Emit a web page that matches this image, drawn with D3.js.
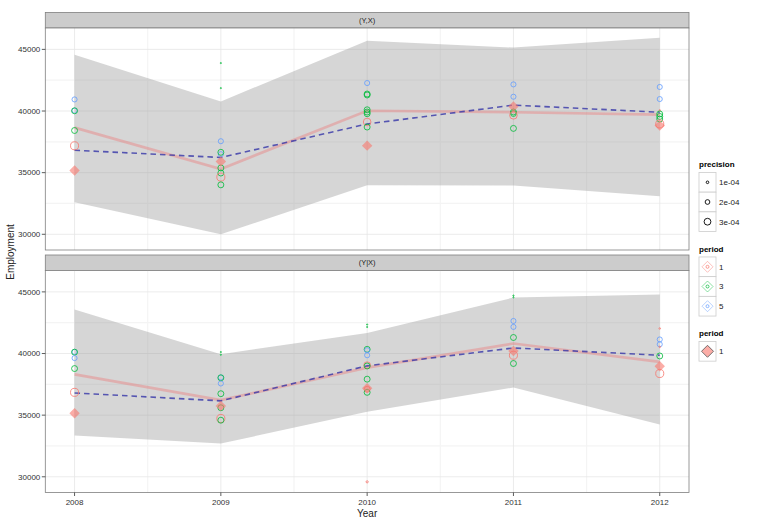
<!DOCTYPE html>
<html>
<head>
<meta charset="utf-8">
<script src="https://cdn.jsdelivr.net/npm/d3@7"></script>
<style>
  body { margin: 0; background: #fff; }
  svg text { font-family: "Liberation Sans", Arial, sans-serif; }
</style>
</head>
<body>
<svg id="chart" width="761" height="526"></svg>
<script>
// ---- data ----
var years = [2008, 2009, 2010, 2011, 2012];
var yTicks = [30000, 35000, 40000, 45000];
var yMinor = [32500, 37500, 42500];
var xMinor = [2008.5, 2009.5, 2010.5, 2011.5];
var panelLabels = ["(Y,X)", "(Y|X)"];
var periods = [1, 3, 5];
var periodColors = ["#F8766D", "#00BA38", "#619CFF"];
var precisionBreaks = [1e-4, 2e-4, 3e-4];
var precisionLabels = ["1e-04", "2e-04", "3e-04"];

// top panel (Y,X)
var ribbonLoA = [32590, 30000, 33970, 33950, 33080];
var ribbonHiA = [44560, 40780, 45700, 45150, 45940];
var fitA      = [38650, 35300, 40020, 39900, 39700];
var trendA    = [36820, 36230, 38950, 40480, 39900];
var diamondA  = [35180, 35900, 37190, 40370, 38830];
// [year, value, period, precision]
var pointsA = [
  [2008, 40940, 5, 2.2e-4], [2008, 40030, 5, 2.2e-4], [2008, 40020, 3, 2.6e-4],
  [2008, 38420, 3, 2.6e-4], [2008, 37180, 1, 3.6e-4],
  [2009, 43890, 3, 0.3e-4], [2009, 41860, 3, 0.3e-4], [2009, 37550, 5, 2.2e-4],
  [2009, 36500, 5, 2.2e-4], [2009, 36650, 3, 2.6e-4], [2009, 35380, 3, 2.6e-4],
  [2009, 34970, 3, 2.6e-4], [2009, 34640, 1, 3.6e-4], [2009, 34010, 3, 2.6e-4],
  [2010, 42270, 5, 2.2e-4], [2010, 41380, 3, 2.6e-4], [2010, 41300, 3, 2.6e-4],
  [2010, 40100, 3, 2.6e-4], [2010, 39920, 3, 2.6e-4], [2010, 39780, 3, 2.6e-4],
  [2010, 39110, 1, 3.4e-4], [2010, 38700, 3, 2.6e-4],
  [2011, 42160, 5, 2.2e-4], [2011, 41160, 5, 2.2e-4], [2011, 39920, 3, 2.6e-4],
  [2011, 39800, 3, 2.6e-4], [2011, 39650, 1, 3.4e-4], [2011, 38590, 3, 2.6e-4],
  [2012, 41950, 5, 2.2e-4], [2012, 40970, 5, 2.2e-4], [2012, 40050, 1, 0.5e-4],
  [2012, 39760, 3, 2.6e-4], [2012, 39560, 3, 2.6e-4], [2012, 39350, 3, 2.6e-4],
  [2012, 38950, 1, 3.6e-4]
];

// bottom panel (Y|X)
var ribbonLoB = [33350, 32700, 35270, 37240, 34240];
var ribbonHiB = [43570, 39950, 41670, 44540, 44780];
var fitB      = [38310, 36220, 38850, 40810, 39320];
var trendB    = [36800, 36160, 39000, 40450, 39860];
var diamondB  = [35160, 35750, 37190, 40210, 38970];
var pointsB = [
  [2008, 40130, 5, 2.2e-4], [2008, 40110, 3, 2.6e-4], [2008, 39630, 5, 2.2e-4],
  [2008, 38780, 3, 2.6e-4], [2008, 36850, 1, 3.6e-4],
  [2009, 40120, 3, 0.3e-4], [2009, 39900, 3, 0.3e-4], [2009, 38060, 5, 2.2e-4],
  [2009, 38030, 3, 2.6e-4], [2009, 37570, 5, 2.2e-4], [2009, 36740, 3, 2.6e-4],
  [2009, 35600, 3, 2.6e-4], [2009, 34730, 1, 3.6e-4], [2009, 34590, 3, 2.6e-4],
  [2010, 42350, 3, 0.3e-4], [2010, 42150, 3, 0.3e-4], [2010, 40340, 3, 2.6e-4],
  [2010, 40270, 5, 2.2e-4], [2010, 39860, 5, 2.2e-4], [2010, 39050, 1, 3.0e-4],
  [2010, 38990, 3, 2.6e-4], [2010, 37920, 3, 2.6e-4], [2010, 37100, 1, 2.6e-4],
  [2010, 36850, 3, 2.6e-4], [2010, 29590, 1, 0.8e-4],
  [2011, 44700, 3, 0.3e-4], [2011, 44560, 3, 0.3e-4], [2011, 42640, 5, 2.2e-4],
  [2011, 42160, 5, 2.2e-4], [2011, 41300, 3, 2.6e-4], [2011, 39860, 1, 3.6e-4],
  [2011, 39190, 3, 2.6e-4],
  [2012, 42030, 1, 0.5e-4], [2012, 41140, 5, 2.2e-4], [2012, 40750, 5, 2.2e-4],
  [2012, 40540, 1, 0.5e-4], [2012, 39800, 3, 2.6e-4], [2012, 38380, 1, 3.6e-4]
];

var panels = [
  { label: panelLabels[0], lo: ribbonLoA, hi: ribbonHiA, fit: fitA, trend: trendA, diamonds: diamondA, points: pointsA, top: 28 },
  { label: panelLabels[1], lo: ribbonLoB, hi: ribbonHiB, fit: fitB, trend: trendB, diamonds: diamondB, points: pointsB, top: 270.5 }
];

// ---- layout ----
var left = 45.3, right = 689, panelH = 222, stripH = 15.5;
var svg = d3.select("#chart");

var x = d3.scaleLinear().domain([2007.8, 2012.2]).range([left, right]);
var color = d3.scaleOrdinal().domain(periods).range(periodColors);
var radius = d3.scaleLinear().domain([1e-4, 3e-4]).range([1.3, 3.4]);

panels.forEach(function(p, i){
    var y = d3.scaleLinear().domain([28725, 46735]).range([p.top + panelH, p.top]);
    var g = svg.append("g");

    // strip
    g.append("rect")
        .attr("x", left).attr("y", p.top - stripH)
        .attr("width", right - left).attr("height", stripH)
        .attr("fill", "#CCCCCC").attr("stroke", "#7F7F7F").attr("stroke-width", 0.8);
    g.append("text")
        .attr("x", (left + right) / 2).attr("y", p.top - stripH / 2 + 2.6)
        .attr("text-anchor", "middle")
        .attr("font-size", "7.5px").attr("fill", "#1A1A1A")
        .text(p.label);

    // panel background + grid
    g.append("rect")
        .attr("x", left).attr("y", p.top)
        .attr("width", right - left).attr("height", panelH)
        .attr("fill", "#fff");

    g.selectAll(".ymin").data(yMinor).enter().append("line")
        .attr("x1", left).attr("x2", right)
        .attr("y1", function(d){ return y(d); }).attr("y2", function(d){ return y(d); })
        .attr("stroke", "#F4F4F4").attr("stroke-width", 1.2);
    g.selectAll(".xmin").data(xMinor).enter().append("line")
        .attr("y1", p.top).attr("y2", p.top + panelH)
        .attr("x1", function(d){ return x(d); }).attr("x2", function(d){ return x(d); })
        .attr("stroke", "#F4F4F4").attr("stroke-width", 1.2);
    g.selectAll(".ymaj").data(yTicks).enter().append("line")
        .attr("x1", left).attr("x2", right)
        .attr("y1", function(d){ return y(d); }).attr("y2", function(d){ return y(d); })
        .attr("stroke", "#E6E6E6").attr("stroke-width", 0.8);
    g.selectAll(".xmaj").data(years).enter().append("line")
        .attr("y1", p.top).attr("y2", p.top + panelH)
        .attr("x1", function(d){ return x(d); }).attr("x2", function(d){ return x(d); })
        .attr("stroke", "#E6E6E6").attr("stroke-width", 0.8);

    // ribbon
    var area = d3.area()
        .x(function(d, k){ return x(years[k]); })
        .y0(function(d, k){ return y(p.lo[k]); })
        .y1(function(d, k){ return y(p.hi[k]); });
    g.append("path").datum(years)
        .attr("d", area)
        .attr("fill", "#999999").attr("fill-opacity", 0.4);

    // fitted line and trend
    var line = d3.line().x(function(d, k){ return x(years[k]); }).y(function(d){ return y(d); });
    g.append("path").datum(p.fit)
        .attr("d", line)
        .attr("fill", "none").attr("stroke", "#F07070").attr("stroke-opacity", 0.38)
        .attr("stroke-width", 2.7);
    g.append("path").datum(p.trend)
        .attr("d", line)
        .attr("fill", "none").attr("stroke", "#3535A8").attr("stroke-opacity", 0.8)
        .attr("stroke-width", 1.6).attr("stroke-dasharray", "5.5,4");

    // points
    g.selectAll(".pt").data(p.points).enter().append("circle")
        .attr("cx", function(d){ return x(d[0]); })
        .attr("cy", function(d){ return y(d[1]); })
        .attr("r", function(d){ return Math.max(0.6, radius(d[3])); })
        .attr("fill", "none")
        .attr("stroke", function(d){ return color(d[2]); })
        .attr("stroke-opacity", 0.8)
        .attr("stroke-width", 1);

    // period 1 diamonds
    g.selectAll(".dm").data(p.diamonds).enter().append("path")
        .attr("transform", function(d, k){ return "translate(" + x(years[k]) + "," + y(d) + ")"; })
        .attr("d", "M0,-5.2L5.2,0L0,5.2L-5.2,0Z")
        .attr("fill", "#F8766D").attr("fill-opacity", 0.6);

    // border
    g.append("rect")
        .attr("x", left).attr("y", p.top)
        .attr("width", right - left).attr("height", panelH)
        .attr("fill", "none").attr("stroke", "#7F7F7F").attr("stroke-width", 0.8);

    // y axis
    g.selectAll(".ytk").data(yTicks).enter().append("line")
        .attr("x1", left - 3.5).attr("x2", left)
        .attr("y1", function(d){ return y(d); }).attr("y2", function(d){ return y(d); })
        .attr("stroke", "#333").attr("stroke-width", 0.8);
    g.selectAll(".ylab").data(yTicks).enter().append("text")
        .attr("x", left - 5).attr("y", function(d){ return y(d) + 2.8; })
        .attr("text-anchor", "end")
        .attr("font-size", "8px").attr("fill", "#333")
        .text(function(d){ return d; });

    if (i === panels.length - 1) {
        g.selectAll(".xtk").data(years).enter().append("line")
            .attr("y1", p.top + panelH).attr("y2", p.top + panelH + 3.5)
            .attr("x1", function(d){ return x(d); }).attr("x2", function(d){ return x(d); })
            .attr("stroke", "#333").attr("stroke-width", 0.8);
        g.selectAll(".xlab").data(years).enter().append("text")
            .attr("x", function(d){ return x(d); }).attr("y", p.top + panelH + 12.5)
            .attr("text-anchor", "middle")
            .attr("font-size", "8px").attr("fill", "#333")
            .text(function(d){ return d; });
    }
});

// axis titles
svg.append("text")
    .attr("x", (left + right) / 2).attr("y", 517)
    .attr("text-anchor", "middle").attr("font-size", "10px").attr("fill", "#222")
    .text("Year");
svg.append("text")
    .attr("transform", "translate(14,252) rotate(-90)")
    .attr("text-anchor", "middle").attr("font-size", "10px").attr("fill", "#222")
    .text("Employment");

// ---- legends ----
var lx = 699, kw = 17, kh = 19.7;
var leg = svg.append("g");

function legendTitle(txt, yy){
    leg.append("text").attr("x", lx).attr("y", yy)
        .attr("font-size", "8px").attr("font-weight", "bold").text(txt);
}
function keyBox(cy){
    leg.append("rect").attr("x", lx).attr("y", cy - kh / 2)
        .attr("width", kw).attr("height", kh)
        .attr("fill", "#fff").attr("stroke", "#CCCCCC").attr("stroke-width", 0.8);
}
function keyLabel(txt, cy){
    leg.append("text").attr("x", lx + kw + 3).attr("y", cy + 2.8)
        .attr("font-size", "8px").attr("fill", "#1A1A1A").text(txt);
}

legendTitle("precision", 167);
precisionBreaks.forEach(function(b, k){
    var cy = 182.3 + k * kh;
    keyBox(cy);
    leg.append("circle").attr("cx", lx + kw / 2).attr("cy", cy)
        .attr("r", radius(b)).attr("fill", "none").attr("stroke", "#000").attr("stroke-width", 0.9);
    keyLabel(precisionLabels[k], cy);
});

legendTitle("period", 251.5);
periods.forEach(function(pd, k){
    var cy = 266.8 + k * kh;
    keyBox(cy);
    leg.append("path")
        .attr("transform", "translate(" + (lx + kw / 2) + "," + cy + ")")
        .attr("d", "M0,-5.5L5.5,0L0,5.5L-5.5,0Z")
        .attr("fill", "none").attr("stroke", color(pd)).attr("stroke-opacity", 0.5).attr("stroke-width", 0.9);
    leg.append("circle").attr("cx", lx + kw / 2).attr("cy", cy).attr("r", 1.5)
        .attr("fill", "none").attr("stroke", color(pd)).attr("stroke-opacity", 0.8).attr("stroke-width", 0.9);
    keyLabel(pd, cy);
});

legendTitle("period", 336);
keyBox(351.3);
leg.append("path")
    .attr("transform", "translate(" + (lx + kw / 2) + ",351.3)")
    .attr("d", "M0,-6L6,0L0,6L-6,0Z")
    .attr("fill", "#F8766D").attr("fill-opacity", 0.6)
    .attr("stroke", "#555").attr("stroke-width", 0.8);
keyLabel(periods[0], 351.3);
</script>
</body>
</html>
